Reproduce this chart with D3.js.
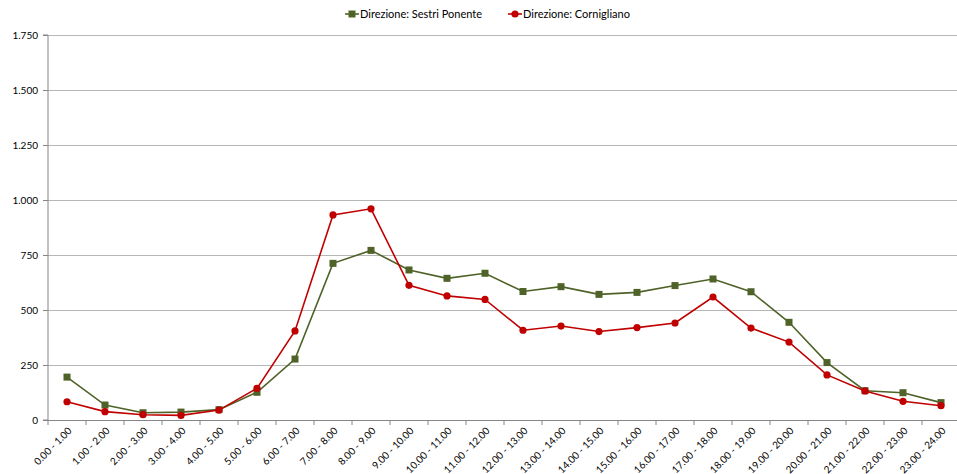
<!DOCTYPE html>
<html><head><meta charset="utf-8">
<script src="https://cdn.jsdelivr.net/npm/d3@7/dist/d3.min.js"></script>
<style>
html,body{margin:0;padding:0;background:#fff;}
text{font-family:Lato,"Open Sans",sans-serif;}
</style></head>
<body><svg id="c" width="957" height="474"></svg>
<script>
const categories = ["0.00 - 1.00","1.00 - 2.00","2.00 - 3.00","3.00 - 4.00","4.00 - 5.00","5.00 - 6.00","6.00 - 7.00","7.00 - 8.00","8.00 - 9.00","9.00 - 10.00","10.00 - 11.00","11.00 - 12.00","12.00 - 13.00","13.00 - 14.00","14.00 - 15.00","15.00 - 16.00","16.00 - 17.00","17.00 - 18.00","18.00 - 19.00","19.00 - 20.00","20.00 - 21.00","21.00 - 22.00","22.00 - 23.00","23.00 - 24.00"];
const sestri = [195,68,33,36,47,126,277,712,771,682,644,667,584,606,571,580,611,641,583,444,261,133,124,79];
const cornigliano = [83,38,24,21,45,144,405,932,960,612,564,548,408,427,402,420,441,559,418,354,205,132,85,65];
const yTicks = [0,250,500,750,1000,1250,1500,1750];
const seriesNames = ["Direzione: Sestri Ponente","Direzione: Cornigliano"];
const colors = ["#4F6228","#C00000"];

const svg = d3.select("#c");
const L = 48, R = 960, T = 35, B = 420;
const x = d3.scaleBand().domain(categories).range([L, R]);
const y = d3.scaleLinear().domain([0,1750]).range([B, T]);
const fmt = v => d3.format(",")(v).replace(/,/g, ".");

// gridlines
svg.append("g").selectAll("line").data(yTicks.filter(d=>d>0)).join("line")
  .attr("x1", L).attr("x2", R).attr("y1", d=>y(d)).attr("y2", d=>y(d))
  .attr("stroke", "#B7B7B7").attr("stroke-width", 1).attr("shape-rendering","crispEdges");

// y axis
const ya = svg.append("g").attr("transform", `translate(${L},0)`)
  .call(d3.axisLeft(y).tickValues(yTicks).tickFormat(fmt).tickSize(5).tickPadding(5));
ya.select(".domain").attr("stroke", "#868686").attr("d", `M-5,${B}H0V${T}H-5`);
ya.selectAll(".tick line").attr("stroke", "#868686");
ya.selectAll(".tick text").attr("fill", "#000").style("font-size", "10px").style("font-family","Lato,sans-serif");

// x axis
const xa = svg.append("g").attr("transform", `translate(0,${B})`);
xa.append("line").attr("x1", L).attr("x2", R).attr("y1", 0.5).attr("y2", 0.5).attr("stroke", "#868686");
const bounds = d3.range(categories.length + 1).map(i => L + i * x.bandwidth());
xa.selectAll("line.tk").data(bounds).join("line").attr("class","tk")
  .attr("x1", d=>d).attr("x2", d=>d).attr("y1", 0).attr("y2", 5).attr("stroke", "#868686");
xa.selectAll("text").data(categories).join("text")
  .attr("transform", d => `translate(${x(d) + x.bandwidth()/2 + 3},${9}) rotate(-45)`)
  .attr("text-anchor", "end").attr("dy", "0.35em")
  .style("font-size", "10px").attr("fill", "#000").text(d=>d);

// series
const series = [sestri, cornigliano];
const line = d3.line().x((d,i)=>x(categories[i]) + x.bandwidth()/2).y(d=>y(d));
series.forEach((s, k) => {
  const g = svg.append("g");
  g.append("path").datum(s).attr("d", line).attr("fill","none")
    .attr("stroke", colors[k]).attr("stroke-width", 1.6);
  if (k === 0) {
    g.selectAll("rect").data(s).join("rect")
      .attr("x", (d,i)=>x(categories[i]) + x.bandwidth()/2 - 3.5)
      .attr("y", d=>y(d) - 3.5).attr("width", 7).attr("height", 7).attr("fill", colors[k]);
  } else {
    g.selectAll("circle").data(s).join("circle")
      .attr("cx", (d,i)=>x(categories[i]) + x.bandwidth()/2)
      .attr("cy", d=>y(d)).attr("r", 3.6).attr("fill", colors[k]);
  }
});

// legend
const lg = svg.append("g");
const lx = [345, 508];
seriesNames.forEach((n, k) => {
  const g = lg.append("g").attr("transform", `translate(${lx[k]},14)`);
  g.append("line").attr("x1",0).attr("x2",14).attr("stroke", colors[k]).attr("stroke-width",1.6);
  if (k === 0) g.append("rect").attr("x",3.5).attr("y",-3.5).attr("width",7).attr("height",7).attr("fill",colors[k]);
  else g.append("circle").attr("cx",7).attr("r",3.6).attr("fill",colors[k]);
  g.append("text").attr("x",15).attr("dy","0.35em").style("font-size","11px").attr("fill","#000").text(n);
});
</script></body></html>
